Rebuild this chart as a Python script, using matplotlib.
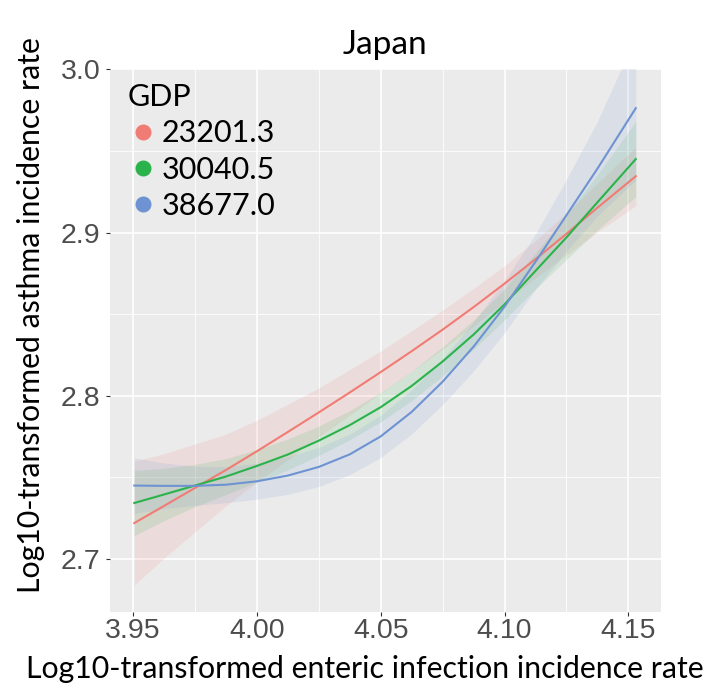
import matplotlib
matplotlib.use("Agg")
import matplotlib.pyplot as plt
from matplotlib.lines import Line2D
from matplotlib.ticker import MultipleLocator, FormatStrFormatter
import numpy as np

x_enteric = [3.9505, 3.9625, 3.975, 3.9875, 4.0, 4.0125, 4.025, 4.0375, 4.05,
             4.0625, 4.075, 4.0875, 4.10, 4.1125, 4.125, 4.1375, 4.153]

gdp_levels = ["23201.3", "30040.5", "38677.0"]

# fitted asthma rate (log10) for each GDP level
fit_low = [2.7220, 2.7325, 2.7435, 2.7545, 2.7660, 2.7778, 2.7898, 2.8020, 2.8145,
           2.8273, 2.8405, 2.8543, 2.8687, 2.8837, 2.8992, 2.9152, 2.9345]
fit_mid = [2.7343, 2.7395, 2.7450, 2.7505, 2.7570, 2.7640, 2.7725, 2.7820, 2.7930,
           2.8060, 2.8210, 2.8375, 2.8560, 2.8765, 2.8970, 2.9185, 2.9450]
fit_high = [2.7450, 2.7448, 2.7448, 2.7455, 2.7476, 2.7511, 2.7564, 2.7641, 2.7751,
            2.7901, 2.8086, 2.8301, 2.8546, 2.8821, 2.9106, 2.9391, 2.9762]

# half width of the confidence band
ci_low = [0.038, 0.032, 0.027, 0.022, 0.019, 0.017, 0.015, 0.014, 0.013,
          0.0125, 0.012, 0.0115, 0.011, 0.0115, 0.013, 0.015, 0.018]
ci_mid = [0.020, 0.016, 0.013, 0.011, 0.010, 0.0095, 0.009, 0.009, 0.009,
          0.009, 0.009, 0.009, 0.0095, 0.011, 0.0135, 0.017, 0.023]
ci_high = [0.017, 0.014, 0.012, 0.011, 0.011, 0.0115, 0.012, 0.0125, 0.013,
           0.0135, 0.014, 0.015, 0.016, 0.017, 0.022, 0.029, 0.044]

colors = ["#F07C74", "#2BB34B", "#6E93D2"]

label_font = "Lato"
tick_font = "Liberation Sans"

fig = plt.figure(figsize=(7.07, 6.93), dpi=100)
ax = fig.add_axes([0.1549, 0.1173, 0.935 - 0.1549, 0.9007 - 0.1173])
ax.set_facecolor("#EBEBEB")
for s in ax.spines.values():
    s.set_visible(False)

x = np.array(x_enteric)
for fit, ci, col in zip([fit_low, fit_mid, fit_high], [ci_low, ci_mid, ci_high], colors):
    fit = np.array(fit)
    ci = np.array(ci)
    ax.fill_between(x, fit - ci, fit + ci, color=col, alpha=0.13, lw=0, zorder=2)
for fit, col in zip([fit_low, fit_mid, fit_high], colors):
    ax.plot(x, fit, color=col, lw=1.5, zorder=3)

ax.set_xlim(3.9405, 4.1632)
ax.set_ylim(2.6677, 3.0003)

ax.xaxis.set_major_locator(MultipleLocator(0.05))
ax.xaxis.set_minor_locator(MultipleLocator(0.025))
ax.yaxis.set_major_locator(MultipleLocator(0.1))
ax.yaxis.set_minor_locator(MultipleLocator(0.05))
ax.grid(which="major", color="white", lw=1.2, zorder=0)
ax.grid(which="minor", color="white", lw=0.6, zorder=0)
ax.set_axisbelow(True)
ax.xaxis.set_major_formatter(FormatStrFormatter("%.2f"))
ax.yaxis.set_major_formatter(FormatStrFormatter("%.1f"))

ax.tick_params(which="major", length=3, width=0.8, color="#333333",
               labelsize=20.5, labelcolor="#4D4D4D")
ax.tick_params(axis="x", which="major", pad=1.5)
ax.tick_params(axis="y", which="major", pad=3.5)
ax.tick_params(which="minor", length=0)
for lab in ax.get_xticklabels() + ax.get_yticklabels():
    lab.set_fontfamily(tick_font)

ax.text(0.5, 1.044, "Japan", transform=ax.transAxes, ha="center", va="center",
        fontsize=24, family=label_font)
ax.set_xlabel("Log10-transformed enteric infection incidence rate",
              fontsize=21.8, family=label_font)
ax.set_ylabel("Log10-transformed asthma incidence rate",
              fontsize=21.8, family=label_font)
ax.xaxis.set_label_coords(0.463, -0.08)
ax.yaxis.set_label_coords(-0.117, 0.546)

handles = [Line2D([], [], marker="o", ls="", markersize=10.5, color=c) for c in colors]
leg = ax.legend(handles, gdp_levels, title="GDP", loc="upper left",
                bbox_to_anchor=(0.0, 1.0075), frameon=False,
                prop={"family": label_font, "size": 22},
                title_fontproperties={"family": label_font, "size": 22},
                handletextpad=0.1, labelspacing=0.27, handlelength=1.0,
                borderaxespad=0.2, alignment="left")

fig.savefig("out.png", dpi=100)
